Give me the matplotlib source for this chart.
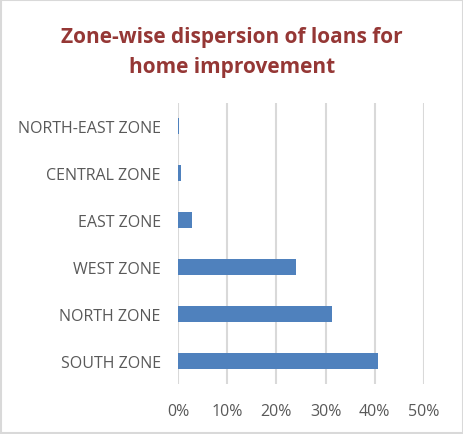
import matplotlib.pyplot as plt
from matplotlib.patches import Rectangle

zones = ['SOUTH ZONE', 'NORTH ZONE', 'WEST ZONE', 'EAST ZONE',
         'CENTRAL ZONE', 'NORTH-EAST ZONE']
share = [40.6, 31.3, 24.0, 2.9, 0.6, 0.3]
ticks = [0, 10, 20, 30, 40, 50]
tick_labels = ['0%', '10%', '20%', '30%', '40%', '50%']

plt.rcParams['font.family'] = ['Open Sans', 'DejaVu Sans']

fig = plt.figure(figsize=(4.64, 4.35), dpi=100)
ax = fig.add_axes([178 / 464, 1 - 385 / 435, (424 - 178) / 464, (385 - 104) / 435])

ax.barh(range(len(zones)), share, height=0.34, color='#4f81bd', zorder=3)
ax.set_xlim(0, 50)
ax.set_ylim(-0.5, 5.5)
ax.set_xticks(ticks)
ax.set_xticklabels(tick_labels)
ax.set_yticks(range(len(zones)))
ax.set_yticklabels(zones)
ax.tick_params(axis='both', length=0, colors='#595959', labelsize=11.5)
ax.tick_params(axis='x', pad=13.5)
ax.tick_params(axis='y', pad=12.5)
ax.xaxis.grid(True, color='#d9d9d9', linewidth=1.5, zorder=0)
for s in ax.spines.values():
    s.set_visible(False)

fig.text(0.5, 1 - 37 / 435, 'Zone-wise dispersion of loans for', ha='center', va='center',
         fontsize=15, fontweight='bold', color='#953735')
fig.text(0.5, 1 - 67 / 435, 'home improvement', ha='center', va='center',
         fontsize=15, fontweight='bold', color='#953735')

fig.patches.append(Rectangle((0.002, 0.002), 0.996, 0.996, transform=fig.transFigure,
                             fill=False, edgecolor='#d9d9d9', linewidth=1.5))

fig.savefig('out.png', dpi=100)
